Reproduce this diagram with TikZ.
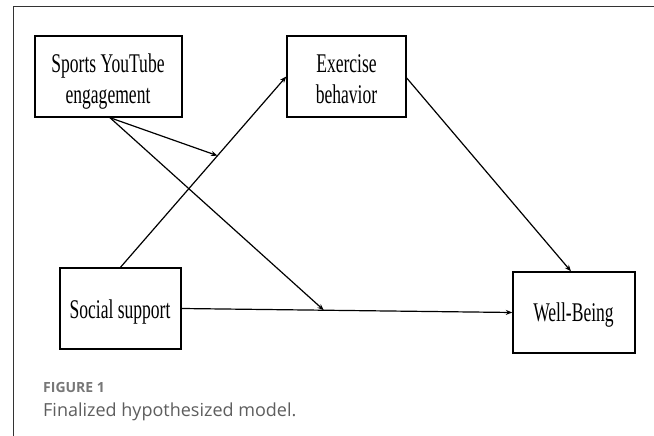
\documentclass[tikz,border=0pt]{standalone}
\usepackage{fontspec}
\setmainfont{Liberation Serif}
\newfontfamily\boxfont[FakeStretch=0.65]{Liberation Serif}
\newfontfamily\capfont{Open Sans}
\usetikzlibrary{arrows.meta,calc}
\definecolor{framegray}{HTML}{333333}
\definecolor{capgray}{HTML}{777777}
\definecolor{captext}{HTML}{5E5E5E}
\tikzset{
  box/.style={draw=black, line width=1.4pt, minimum width=#1, minimum height=81pt, inner sep=0pt},
  lbl/.style={font=\boxfont\fontsize{27}{31}\selectfont, inner sep=0pt, anchor=base},
  conn/.style={draw=black, line width=1.2pt, -{Stealth[length=6.5pt,width=5pt]}},
  capnum/.style={font=\capfont\bfseries\fontsize{14}{16}\selectfont, text=capgray, anchor=base west, inner sep=0pt},
  captxt/.style={font=\capfont\fontsize{18}{22}\selectfont, text=captext, anchor=base west, inner sep=0pt},
  frameline/.style={draw=framegray, line width=1.2pt}
}
\begin{document}
\begin{tikzpicture}[x=1pt,y=-1pt]
\useasboundingbox (0,0) rectangle (654,436);
\fill[white] (0,0) rectangle (654,436);
\draw[frameline] (13.5,437) -- (13.5,6.7) -- (655,6.7);

% boxes
\node[box=147pt] (sy) at (108.5,76.5) {};
\node[box=119pt] (ex) at (346.5,76.5) {};
\node[box=121pt] (ss) at (120.5,308.5) {};
\node[box=122pt] (wb) at (574,312.5) {};

% labels
\node[lbl] (sy1) at (108,72.5) {Sports YouTube};
\node[lbl] (sy2) at (108,103.5) {engagement};
\node[lbl] (ex1) at (346.5,72.5) {Exercise};
\node[lbl] (ex2) at (346.5,103.5) {behavior};
\node[lbl] (ss1) at (120,318.5) {Social support};
\node[lbl] (wb1) at (573.5,321.5) {Well-Being};

% interaction points
\coordinate (m1) at ($(ss.north)!0.585!(ex.west)$);
\coordinate (m2) at ($(ss.east)!0.43!(wb.west)$);

% connectors
\draw[conn] (ss.north) -- (ex.west);
\draw[conn] ([xshift=1.5pt]sy.south) -- (m1);
\draw[conn] ([xshift=1.5pt]sy.south) -- (m2);
\draw[conn] ([yshift=-1.5pt]ex.east) -- ([xshift=-3pt]wb.north);
\draw[conn] (ss.east) -- (wb.west);

% caption
\node[capnum] (fig) at (43,392) {FIGURE 1};
\node[captxt] (cap) at (43,416) {Finalized hypothesized model.};
\end{tikzpicture}
\end{document}
